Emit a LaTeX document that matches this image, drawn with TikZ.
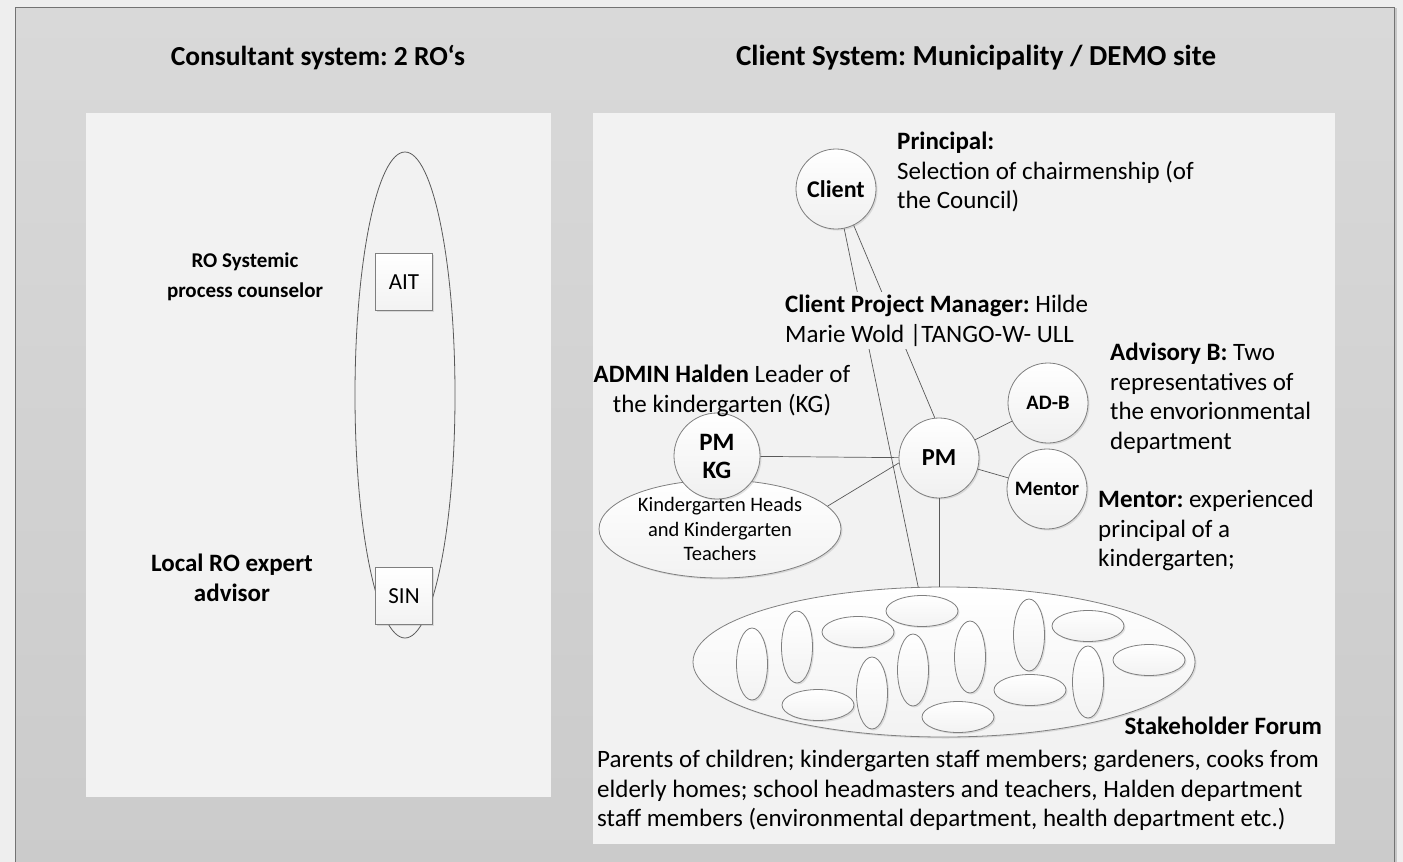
\documentclass[tikz,border=0pt]{standalone}
\usepackage{fontspec}
\setmainfont{Carlito}
\frenchspacing
\usetikzlibrary{shapes.geometric,shadows}
\definecolor{outerbg}{HTML}{EEEEEE}
\definecolor{frametop}{HTML}{D9D9D9}
\definecolor{framebot}{HTML}{CBCBCB}
\definecolor{panel}{HTML}{F2F2F2}
\definecolor{edge}{HTML}{7F7F7F}
\definecolor{conn}{HTML}{595959}
\begin{document}
\begin{tikzpicture}[x=1pt,y=-1pt,
  every node/.style={inner sep=0pt},
  shd/.style={drop shadow={opacity=0.22,shadow xshift=1.5pt,shadow yshift=-1.5pt}},
  circ/.style={circle, draw=edge, line width=0.8pt, top color=white, bottom color=black!6, minimum size=#1, shd},
  smallell/.style={ellipse, draw=edge, line width=0.8pt, top color=white, bottom color=black!5, shd},
  hov/.style={smallell, minimum width=72pt, minimum height=31pt},
  vov/.style={smallell, minimum width=31pt, minimum height=72pt},
  boxnode/.style={rectangle, draw=edge, line width=0.8pt, top color=white, bottom color=black!5, minimum size=57pt, font=\fontsize{23}{26}\selectfont, shd},
  conline/.style={draw=conn, line width=0.7pt},
  titlefont/.style={font=\bfseries\fontsize{#1}{32}\selectfont},
  bodytext/.style={font=\fontsize{25}{29.5}\selectfont},
  boldlabel/.style={font=\bfseries\fontsize{#1}{30}\selectfont, align=center}
]
\useasboundingbox (0,0) rectangle (1403,862);
\clip (0,0) rectangle (1403,862);
% background and frame
\fill[outerbg] (0,0) rectangle (1403,862);
\fill[black!22] (16,8) rectangle (1397,870);
\shade[top color=frametop, bottom color=framebot] (15,7) rectangle (1394,870);
\draw[black!55, line width=1pt] (15,870) -- (15,7) -- (1394,7) -- (1394,870);
\fill[panel] (86,113) rectangle (551,797);
\fill[panel] (593,113) rectangle (1335,844);

% titles
\node[titlefont=27.5] (t1) at (318,58) {Consultant system: 2 RO‘s};
\node[titlefont=29] (t2) at (976,58) {Client System: Municipality / DEMO site};

% left panel
\node[ellipse, draw=conn, line width=0.8pt, fill=panel, minimum width=100pt, minimum height=486pt] (ro) at (405,395) {};
\node[boxnode] (ait) at (404,282) {AIT};
\node[boxnode] (sin) at (404,596) {SIN};
\node[boldlabel=21] (l1) at (245,277) {RO Systemic\\process counselor};
\node[boldlabel=25] (l2) at (232,578) {Local RO expert\\advisor};

% right panel nodes
\node[ellipse, draw=edge, line width=0.8pt, top color=white, bottom color=black!5, minimum width=502pt, minimum height=150pt, shd] (forum) at (944,662) {};
\node[circ=80pt, font=\bfseries\fontsize{24}{26}\selectfont] (client) at (836,189) {Client};
\node[circ=80pt, font=\bfseries\fontsize{24.5}{26}\selectfont] (pm) at (939,458) {PM};
\node[circ=80pt, font=\bfseries\fontsize{20.5}{22}\selectfont] (adb) at (1048,403) {AD-B};
\node[circ=80pt, font=\bfseries\fontsize{20.5}{22}\selectfont] (mentor) at (1047,489) {Mentor};
\node[ellipse, draw=edge, line width=0.8pt, top color=white, bottom color=black!5, minimum width=242pt, minimum height=98pt, align=center, font=\fontsize{20.5}{24.5}\selectfont, shd] (kgt) at (720,529) {Kindergarten Heads\\and Kindergarten\\Teachers};
\node[circ=86pt, align=center, font=\bfseries\fontsize{25}{28}\selectfont] (pmkg) at (717,456) {PM\\KG};

% stakeholder small ellipses
\node[vov] (e1) at (752,664) {};
\node[vov] (e2) at (797,647) {};
\node[hov] (e3) at (858,632) {};
\node[hov] (e4) at (922,611) {};
\node[hov] (e5) at (818,705) {};
\node[vov] (e6) at (872,693) {};
\node[vov] (e7) at (913,670) {};
\node[vov] (e8) at (970,657) {};
\node[hov] (e9) at (958,717) {};
\node[hov] (e10) at (1030,690) {};
\node[vov] (e11) at (1029,635) {};
\node[hov] (e12) at (1088,626) {};
\node[vov] (e13) at (1088,682) {};
\node[hov] (e14) at (1149,660) {};

% connectors
\draw[conline] (client) -- (forum.109);
\draw[conline] (client.-64) -- (pm.96);
\draw[conline] (pmkg) -- (pm);
\draw[conline] (kgt.12) -- (pm.187);
\draw[conline] (pm) -- (adb);
\draw[conline] (pm) -- (mentor);
\draw[conline] (pm.south) -- (pm.south |- forum.north);

% texts
\node[bodytext, align=left, anchor=north west] (principal) at (897,132) {\textbf{Principal:}\\Selection of chairmenship (of\\the Council)};
\node[bodytext, align=left, anchor=north west, fill=panel, inner sep=3pt] (cpm) at (782,292) {\textbf{Client Project Manager:} Hilde\\Marie Wold |TANGO-W- ULL};
\node[bodytext, align=center, anchor=north] (admin) at (722,365) {\textbf{ADMIN Halden} Leader of\\the kindergarten (KG)};
\node[bodytext, align=left, anchor=north west] (advb) at (1110,343) {\textbf{Advisory B:} Two\\representatives of\\the envorionmental\\department};
\node[bodytext, align=left, anchor=north west] (mtext) at (1098,490) {\textbf{Mentor:} experienced\\principal of a\\kindergarten;};
\node[font=\bfseries\fontsize{25}{29.5}\selectfont, anchor=north east] (sf) at (1322,717) {Stakeholder Forum};
\node[bodytext, align=left, anchor=north west] (sftext) at (597,750) {Parents of children; kindergarten staff members; gardeners, cooks from\\elderly homes; school headmasters and teachers, Halden department\\staff members (environmental department, health department etc.)};
\end{tikzpicture}
\end{document}
